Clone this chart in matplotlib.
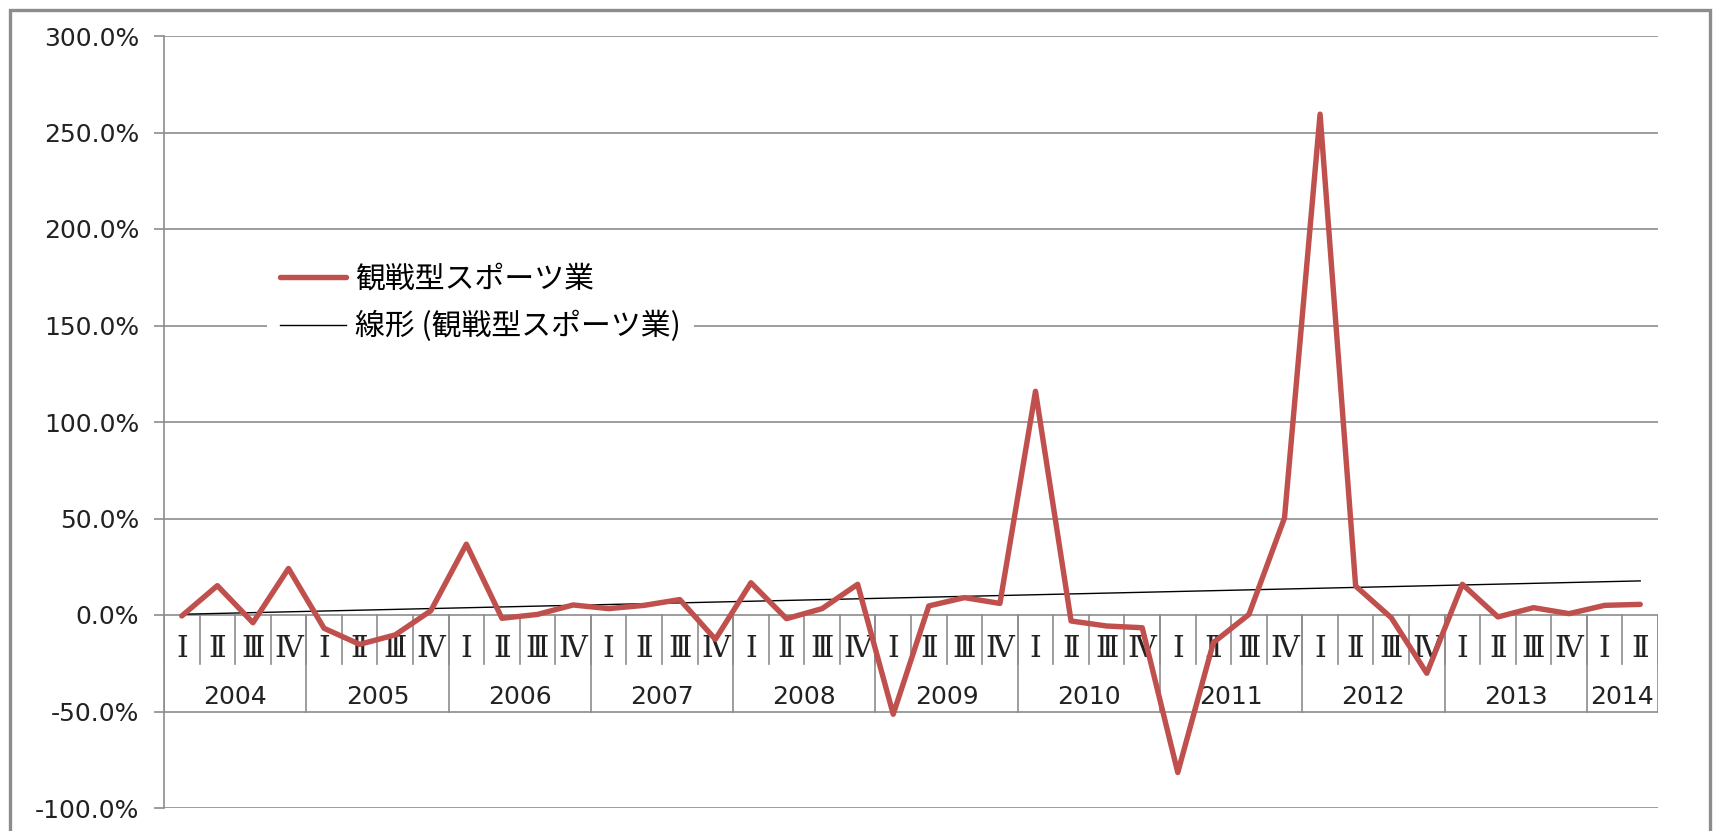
import numpy as np
import matplotlib.pyplot as plt
from matplotlib.patches import Rectangle

# quarterly growth rate (%) of spectator sports, 2004 I - 2014 II
years = ['2004', '2005', '2006', '2007', '2008', '2009', '2010', '2011', '2012', '2013', '2014']
quarters_per_year = [4, 4, 4, 4, 4, 4, 4, 4, 4, 4, 2]
quarter_names = ['Ⅰ', 'Ⅱ', 'Ⅲ', 'Ⅳ']
growth = [-0.5, 15.2, -4.0, 24.1,
          -6.9, -15.2, -10.3, 2.2,
          36.7, -1.7, 0.3, 5.2,
          3.3, 5.0, 8.0, -12.6,
          16.7, -1.9, 3.3, 15.9,
          -51.4, 4.7, 9.0, 6.0,
          115.9, -3.1, -5.7, -6.6,
          -81.6, -14.3, 0.3, 50.3,
          259.5, 15.0, -1.4, -30.2,
          15.9, -1.0, 3.8, 0.7,
          5.0, 5.5]
y_ticks = [-100, -50, 0, 50, 100, 150, 200, 250, 300]
series_name = '観戦型スポーツ業'
trend_name = '線形 (観戦型スポーツ業)'

grid_col = '#8c8c8c'
red = '#C0504D'

fig = plt.figure(figsize=(17.19, 8.31), dpi=100)
ax = fig.add_axes([164 / 1719, 23 / 831, 1494 / 1719, 772 / 831])

x = np.arange(len(growth))
ax.set_xlim(-0.5, len(growth) - 0.5)
ax.set_ylim(-100, 300)
ax.set_yticks(y_ticks)
ax.set_yticklabels(['%.1f%%' % v for v in y_ticks], fontsize=18, family='DejaVu Sans', color='#222222')
ax.set_xticks([])
ax.grid(axis='y', color=grid_col, lw=1.2)
ax.set_axisbelow(True)
for s in ['top', 'right', 'bottom']:
    ax.spines[s].set_visible(False)
ax.spines['left'].set_color(grid_col)
ax.spines['left'].set_linewidth(1.2)
ax.tick_params(axis='y', length=7, color=grid_col, width=1.2, pad=11)

# category axis boxes (quarters + years) hanging from the 0% line
n = len(growth)
for i in range(n + 1):
    ax.plot([i - 0.5, i - 0.5], [0, -25.5], color=grid_col, lw=1.2, zorder=1)
idx = 0
ax.plot([-0.5, -0.5], [0, -50], color=grid_col, lw=1.2, zorder=1)
for yr, nq in zip(years, quarters_per_year):
    for q in range(nq):
        ax.text(idx + q, -17.4, quarter_names[q], ha='center', va='center',
                fontsize=21.5, family=['DejaVu Serif', 'Noto Sans CJK JP'], color='#222222')
    ax.text(idx + (nq - 1) / 2, -42.5, yr, ha='center', va='center',
            fontsize=18, family='DejaVu Sans', color='#222222')
    idx += nq
    ax.plot([idx - 0.5, idx - 0.5], [0, -50], color=grid_col, lw=1.2, zorder=1)

# linear trend
coef = np.polyfit(x, growth, 1)
ax.plot(x, np.polyval(coef, x), color='black', lw=1, zorder=3, label=trend_name)
ax.plot(x, growth, color=red, lw=3.9, solid_joinstyle='round', solid_capstyle='round',
        zorder=4, label=series_name)

h, l = ax.get_legend_handles_labels()
leg = ax.legend(h[::-1], l[::-1], loc='upper left', bbox_to_anchor=(267 / 1719, 1 - 250 / 831),
                bbox_transform=fig.transFigure, prop={'family': 'Noto Sans CJK JP', 'size': 21.5},
                frameon=True, fancybox=False, edgecolor='none', facecolor='white', framealpha=1,
                handlelength=2.2, handletextpad=0.3, labelspacing=0.55, borderpad=0.45,
                borderaxespad=0)
leg.set_zorder(5)

# outer chart border
fig.add_artist(Rectangle((10 / 1719, -0.1), 1700 / 1719, 1 - 10 / 831 + 0.1,
                         transform=fig.transFigure, fill=False, edgecolor=grid_col, lw=2.4))

fig.savefig('out.png', dpi=100)
